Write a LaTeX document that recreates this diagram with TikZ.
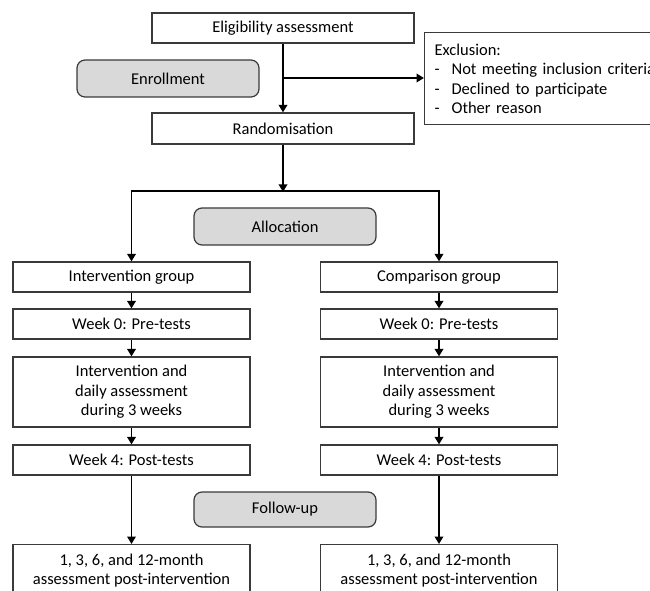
\documentclass[tikz,border=0pt]{standalone}
\usepackage{fontspec}
\setmainfont{Carlito}
\usetikzlibrary{arrows.meta}
\definecolor{boxc}{HTML}{3A3A3A}
\definecolor{grayfill}{HTML}{D9D9D9}
\begin{document}
\begin{tikzpicture}[x=1pt,y=-1pt,
  box/.style={draw=boxc, line width=1.2pt, inner sep=0pt, align=center,
    font=\fontsize{16.5}{19.5}\selectfont, text=black},
  stagebox/.style={box, fill=grayfill, rounded corners=8pt, minimum width=182pt, minimum height=37pt},
  colbox/.style={box, minimum width=237pt},
  arr/.style={line width=1.8pt, -{Triangle[length=7.5pt,width=8.5pt]}}]
\clip (0,0) rectangle (650,591);
\fill[white] (0,0) rectangle (650,591);

\node[box, minimum width=262pt, minimum height=30pt] (elig) at (283,28) {Eligibility assessment};
\node[stagebox] (enroll) at (168,78.5) {Enrollment};
\node[box, anchor=north west, text width=280pt, inner xsep=10pt, align=left, minimum height=92pt] (excl) at (424,32)
  {Exclusion:\\\makebox[17pt][l]{-}Not meeting inclusion criteria\\\makebox[17pt][l]{-}Declined to participate\\\makebox[17pt][l]{-}Other reason};
\node[box, minimum width=262pt, minimum height=31pt] (rand) at (283,128.5) {Randomisation};

\node[stagebox] (alloc) at (285,226.5) {Allocation};

\node[colbox, minimum height=30pt] (ig) at (131.5,277) {Intervention group};
\node[colbox, minimum height=30pt] (cg) at (439,277) {Comparison group};
\node[colbox, minimum height=30pt] (iw0) at (131.5,324) {Week 0: Pre-tests};
\node[colbox, minimum height=30pt] (cw0) at (439,324) {Week 0: Pre-tests};
\node[colbox, minimum height=70pt] (iint) at (131.5,392) {Intervention and\\daily assessment\\during 3 weeks};
\node[colbox, minimum height=70pt] (cint) at (439,392) {Intervention and\\daily assessment\\during 3 weeks};
\node[colbox, minimum height=30pt] (iw4) at (131.5,460) {Week 4: Post-tests};
\node[colbox, minimum height=30pt] (cw4) at (439,460) {Week 4: Post-tests};

\node[stagebox, minimum height=35pt] (follow) at (285,509.5) {Follow-up};

\node[colbox, anchor=north, minimum height=52pt] (ifu) at (131.5,544) {1, 3, 6, and 12-month\\assessment post-intervention};
\node[colbox, anchor=north, minimum height=52pt] (cfu) at (439,544) {1, 3, 6, and 12-month\\assessment post-intervention};

\coordinate (branch) at (283,78);
\coordinate (split) at (283,191);

\draw[arr] (elig.south) -- (rand.north);
\draw[arr] (branch) -- (excl.west |- branch);
\draw[arr] (rand.south) -- ([yshift=-0.9pt]split);
\draw[arr] (split) -| (ig.north);
\draw[arr] (split) -| (cg.north);

\draw[arr] (ig.south) -- (iw0.north);
\draw[arr] (iw0.south) -- (iint.north);
\draw[arr] (iint.south) -- (iw4.north);
\draw[arr] (iw4.south) -- (ifu.north);

\draw[arr] (cg.south) -- (cw0.north);
\draw[arr] (cw0.south) -- (cint.north);
\draw[arr] (cint.south) -- (cw4.north);
\draw[arr] (cw4.south) -- (cfu.north);
\end{tikzpicture}
\end{document}
